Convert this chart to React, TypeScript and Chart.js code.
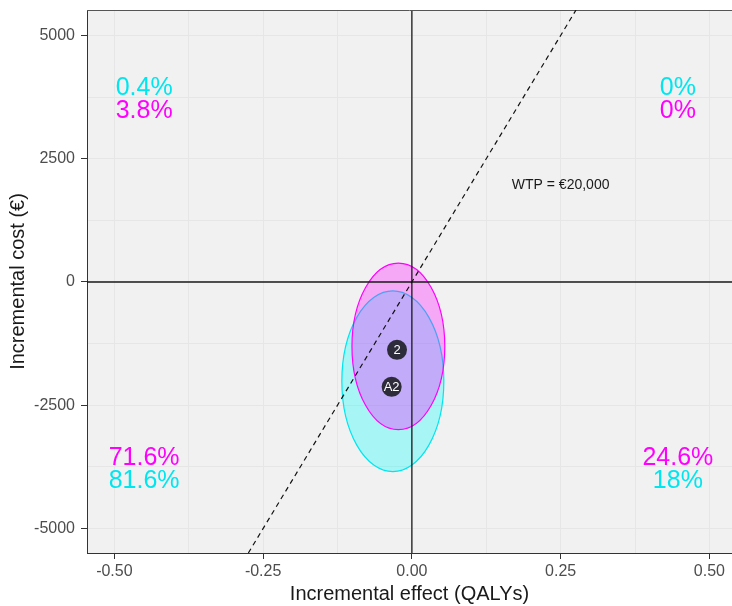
import { useEffect, useRef } from "react";
import { Chart, registerables } from "chart.js";

Chart.register(...registerables);

// Cost-effectiveness plane: incremental effect (QALYs) vs incremental cost (€)
const strategies = ["A2", "2"];
const meanEffect = [-0.034, -0.025];
const meanCost = [-2126, -1376];

// 95% confidence ellipses (centre and semi-axes, in data units)
const ellipseEffect = [-0.032, -0.0227];
const ellipseCost = [-2014, -1306];
const ellipseHalfEffect = [0.0857, 0.078];
const ellipseHalfCost = [1832, 1690];

// Share of simulations falling in each quadrant, per strategy
const pctNE = ["0%", "0%"];
const pctNW = ["0.4%", "3.8%"];
const pctSW = ["81.6%", "71.6%"];
const pctSE = ["18%", "24.6%"];

// Where the quadrant shares are written
const labelEffectLeft = -0.45;
const labelEffectRight = 0.447;
const labelCostTop = [3953, 3482]; // strategy A2 above, 2 below
const labelCostBottom = [-4028, -3543]; // strategy 2 above, A2 below

// Willingness-to-pay threshold (€ per QALY)
const wtp = 20000;
const wtpLabel = "WTP = €20,000";
const wtpLabelEffect = 0.25;
const wtpLabelCost = 1955;

const xLimits = [-0.546, 0.538];
const yLimits = [-5497, 5517];
const xTicks = [-0.5, -0.375, -0.25, -0.125, 0, 0.125, 0.25, 0.375, 0.5];
const yTicks = [-5000, -3750, -2500, -1250, 0, 1250, 2500, 3750, 5000];
const xMajor = [-0.5, -0.25, 0, 0.25, 0.5];
const yMajor = [-5000, -2500, 0, 2500, 5000];

const strategyColours = ["#00e6ef", "#ff00ff"];
const strategyFills = ["rgba(0,255,255,0.3)", "rgba(255,0,255,0.3)"];
const FONT = "'Liberation Sans', Arial, sans-serif";

const isMajor = (list: number[], v: number) => list.some((m) => Math.abs(m - v) < 1e-9);

const planePlugin = {
  id: "cePlane",
  beforeDraw(chart: any) {
    const { ctx, chartArea: a } = chart;
    ctx.save();
    ctx.fillStyle = "#f1f1f1";
    ctx.fillRect(a.left, a.top, a.right - a.left, a.bottom - a.top);
    ctx.restore();
  },
  beforeDatasetsDraw(chart: any) {
    const { ctx, chartArea: a, scales } = chart;
    const sx = scales.x;
    const sy = scales.y;
    ctx.save();
    ctx.beginPath();
    ctx.rect(a.left, a.top, a.right - a.left, a.bottom - a.top);
    ctx.clip();
    // confidence ellipses
    strategies.forEach((_, i) => {
      const cx = sx.getPixelForValue(ellipseEffect[i]);
      const cy = sy.getPixelForValue(ellipseCost[i]);
      const rx = Math.abs(sx.getPixelForValue(ellipseEffect[i] + ellipseHalfEffect[i]) - cx);
      const ry = Math.abs(sy.getPixelForValue(ellipseCost[i] + ellipseHalfCost[i]) - cy);
      ctx.beginPath();
      ctx.ellipse(cx, cy, rx, ry, 0, 0, Math.PI * 2);
      ctx.fillStyle = strategyFills[i];
      ctx.fill();
      ctx.lineWidth = 1.2;
      ctx.strokeStyle = strategyColours[i];
      ctx.stroke();
    });
    // origin axes
    const x0 = sx.getPixelForValue(0);
    const y0 = sy.getPixelForValue(0);
    ctx.strokeStyle = "#1a1a1a";
    ctx.lineWidth = 1.3;
    ctx.beginPath();
    ctx.moveTo(a.left, y0);
    ctx.lineTo(a.right, y0);
    ctx.moveTo(x0, a.top);
    ctx.lineTo(x0, a.bottom);
    ctx.stroke();
    ctx.restore();
    // top panel border
    ctx.save();
    ctx.strokeStyle = "#555555";
    ctx.lineWidth = 1;
    ctx.beginPath();
    ctx.moveTo(a.left, a.top + 0.5);
    ctx.lineTo(a.right, a.top + 0.5);
    ctx.stroke();
    ctx.restore();
  },
  afterDatasetsDraw(chart: any) {
    const { ctx, scales } = chart;
    const sx = scales.x;
    const sy = scales.y;
    ctx.save();
    ctx.textAlign = "center";
    ctx.textBaseline = "middle";
    // strategy labels on the mean points
    ctx.font = `13px ${FONT}`;
    ctx.fillStyle = "#ffffff";
    strategies.forEach((s, i) => {
      ctx.fillText(s, sx.getPixelForValue(meanEffect[i]), sy.getPixelForValue(meanCost[i]) + 1);
    });
    // WTP label
    ctx.font = `14px ${FONT}`;
    ctx.fillStyle = "#1a1a1a";
    ctx.fillText(wtpLabel, sx.getPixelForValue(wtpLabelEffect), sy.getPixelForValue(wtpLabelCost));
    // quadrant shares
    ctx.font = `25px ${FONT}`;
    const xl = sx.getPixelForValue(labelEffectLeft);
    const xr = sx.getPixelForValue(labelEffectRight);
    strategies.forEach((_, i) => {
      ctx.fillStyle = strategyColours[i];
      const yt = sy.getPixelForValue(labelCostTop[i]) + 1;
      const yb = sy.getPixelForValue(labelCostBottom[i]) + 1;
      ctx.fillText(pctNW[i], xl, yt);
      ctx.fillText(pctNE[i], xr, yt);
      ctx.fillText(pctSW[i], xl, yb);
      ctx.fillText(pctSE[i], xr, yb);
    });
    ctx.restore();
  },
};

export default function App() {
  const canvasRef = useRef<HTMLCanvasElement | null>(null);

  useEffect(() => {
    document.body.style.margin = "0";
    const canvas = canvasRef.current;
    if (!canvas) return;

    const chart = new Chart(canvas, {
      type: "scatter",
      data: {
        datasets: [
          {
            label: "strategies",
            data: strategies.map((_, i) => ({ x: meanEffect[i], y: meanCost[i] })),
            pointRadius: 10,
            pointHoverRadius: 10,
            pointBackgroundColor: "#2e2b3a",
            pointBorderColor: "#2e2b3a",
            pointBorderWidth: 0,
            order: 0,
          },
          {
            label: "wtp",
            data: [
              { x: yLimits[0] / wtp, y: yLimits[0] },
              { x: yLimits[1] / wtp, y: yLimits[1] },
            ],
            showLine: true,
            pointRadius: 0,
            borderColor: "#111111",
            borderWidth: 1.2,
            borderDash: [5, 4],
            order: 1,
          },
        ],
      },
      options: {
        responsive: false,
        animation: false,
        events: [],
        layout: { autoPadding: false, padding: { top: 10, right: 0, left: 0, bottom: 0 } },
        plugins: { legend: { display: false }, tooltip: { enabled: false } },
        scales: {
          x: {
            type: "linear",
            min: xLimits[0],
            max: xLimits[1],
            afterBuildTicks: (scale: any) => {
              scale.ticks = xTicks.map((v) => ({ value: v }));
            },
            afterFit: (scale: any) => {
              scale.height = 53;
              scale.paddingLeft = 0;
              scale.paddingRight = 0;
            },
            ticks: {
              autoSkip: false,
              maxRotation: 0,
              padding: 3,
              color: "#4d4d4d",
              font: { family: FONT, size: 16 },
              callback: (v: any) => (isMajor(xMajor, Number(v)) ? Number(v).toFixed(2) : ""),
            },
            grid: {
              color: "#e6e6e6",
              lineWidth: 1,
              tickLength: 6,
              tickColor: (c: any) => (c.tick && isMajor(xMajor, c.tick.value) ? "#333333" : "rgba(0,0,0,0)"),
            },
            border: { display: true, color: "#333333", width: 1 },
            title: {
              display: true,
              text: "Incremental effect (QALYs)",
              color: "#1a1a1a",
              font: { family: FONT, size: 20 },
              padding: { top: 0, bottom: 0 },
            },
          },
          y: {
            type: "linear",
            min: yLimits[0],
            max: yLimits[1],
            afterBuildTicks: (scale: any) => {
              scale.ticks = yTicks.map((v) => ({ value: v }));
            },
            afterFit: (scale: any) => {
              scale.width = 87;
              scale.paddingTop = 0;
              scale.paddingBottom = 0;
            },
            ticks: {
              autoSkip: false,
              padding: 6,
              color: "#4d4d4d",
              font: { family: FONT, size: 16 },
              callback: (v: any) => (isMajor(yMajor, Number(v)) ? String(Number(v)) : ""),
            },
            grid: {
              color: "#e6e6e6",
              lineWidth: 1,
              tickLength: 6,
              tickColor: (c: any) => (c.tick && isMajor(yMajor, c.tick.value) ? "#333333" : "rgba(0,0,0,0)"),
            },
            border: { display: true, color: "#333333", width: 1 },
            title: {
              display: true,
              text: "Incremental cost (€)",
              color: "#1a1a1a",
              font: { family: FONT, size: 20 },
              padding: { top: 6, bottom: 0 },
            },
          },
        },
      },
      plugins: [planePlugin],
    });

    return () => chart.destroy();
  }, []);

  return (
    <div style={{ position: "fixed", left: 0, top: 0, width: 732, height: 606, background: "#ffffff" }}>
      <canvas ref={canvasRef} width={732} height={606} style={{ display: "block" }} />
    </div>
  );
}
